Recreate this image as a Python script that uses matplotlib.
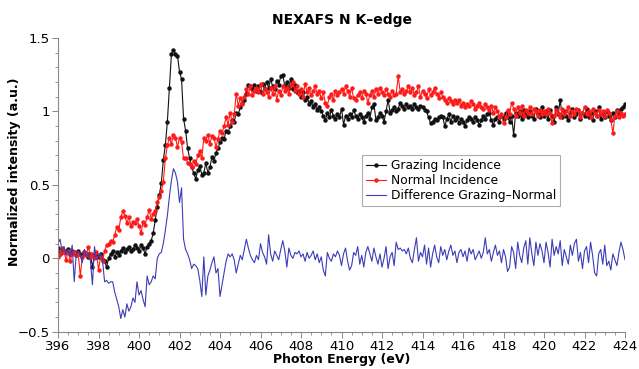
import numpy as np
import matplotlib
matplotlib.use("Agg")
import matplotlib.pyplot as plt
from matplotlib.ticker import MultipleLocator

# Photon energy grid (eV), 0.1 eV steps
energy_start = 396.0
energy_stop = 424.0
energy_step = 0.1

grazing = [
    0.07, 0.03, 0.06, 0.04, 0.05, 0.06, 0.03, 0.05, 0.04, 0.02,
    0.05, 0.03, 0.02, 0.04, 0.03, 0.01, 0.03, -0.06, 0.02, 0.03,
    0.01, 0.03, -0.01, -0.02, -0.06, 0.00, 0.03, 0.05, 0.01, 0.04,
    0.02, 0.05, 0.07, 0.04, 0.06, 0.08, 0.05, 0.06, 0.09, 0.07,
    0.05, 0.09, 0.07, 0.03, 0.08, 0.10, 0.12, 0.17, 0.26, 0.35,
    0.43, 0.51, 0.67, 0.77, 0.93, 1.16, 1.39, 1.42, 1.39, 1.38,
    1.27, 1.22, 0.95, 0.87, 0.75, 0.68, 0.62, 0.58, 0.54, 0.60,
    0.63, 0.57, 0.58, 0.65, 0.58, 0.62, 0.69, 0.66, 0.72, 0.75,
    0.79, 0.82, 0.81, 0.87, 0.86, 0.90, 0.94, 0.93, 0.99, 0.98,
    1.03, 1.06, 1.08, 1.12, 1.18, 1.17, 1.15, 1.18, 1.14, 1.17,
    1.13, 1.19, 1.15, 1.20, 1.16, 1.22, 1.17, 1.15, 1.21, 1.18,
    1.24, 1.25, 1.17, 1.20, 1.16, 1.22, 1.15, 1.18, 1.13, 1.14,
    1.10, 1.13, 1.08, 1.10, 1.05, 1.07, 1.03, 1.05, 1.01, 1.03,
    1.00, 0.97, 0.94, 0.99, 0.96, 1.01, 0.97, 0.95, 0.98, 0.96,
    1.02, 0.91, 0.97, 0.95, 0.98, 0.96, 1.01, 0.97, 0.95, 0.98,
    0.96, 0.93, 0.97, 0.99, 0.95, 1.03, 1.05, 0.94, 0.96, 0.99,
    0.97, 0.93, 1.00, 1.08, 0.99, 1.01, 1.03, 1.00, 1.02, 1.06,
    1.04, 1.02, 1.05, 1.03, 1.04, 1.02, 1.05, 1.03, 1.02, 1.04,
    1.03, 1.01, 1.00, 0.96, 0.92, 0.93, 0.95, 0.94, 0.96, 0.97,
    0.96, 0.90, 0.95, 0.98, 0.93, 0.97, 0.94, 0.96, 0.92, 0.95,
    0.93, 0.90, 0.94, 0.96, 0.95, 0.93, 0.96, 0.94, 0.91, 0.94,
    0.97, 0.95, 0.98, 0.99, 0.94, 0.91, 0.95, 0.96, 0.93, 0.97,
    0.95, 0.99, 0.96, 0.93, 0.97, 0.84, 0.99, 0.97, 1.00, 0.95,
    1.01, 0.98, 0.96, 1.00, 0.97, 0.95, 1.02, 0.98, 0.96, 1.03,
    0.97, 1.00, 0.95, 1.01, 0.97, 0.93, 1.03, 0.98, 1.08, 0.96,
    1.00, 0.97, 0.94, 0.99, 1.02, 0.96, 0.98, 1.01, 0.95, 0.99,
    0.97, 1.02, 0.96, 0.99, 0.94, 1.00, 0.97, 1.03, 0.95, 0.98,
    0.96, 1.00, 0.97, 0.94, 0.99, 0.96, 1.01, 0.98, 1.02, 1.03,
    1.05,
]

normal = [
    0.01, 0.03, 0.07, 0.04, -0.01, 0.05, -0.02, 0.03, 0.04, 0.02,
    0.03, -0.12, 0.01, 0.04, 0.02, 0.08, 0.01, 0.03, 0.00, 0.04,
    -0.08, 0.01, -0.02, 0.05, 0.09, 0.10, 0.12, 0.11, 0.16, 0.21,
    0.19, 0.28, 0.32, 0.29, 0.24, 0.28, 0.22, 0.25, 0.24, 0.27,
    0.22, 0.17, 0.25, 0.23, 0.28, 0.33, 0.27, 0.30, 0.32, 0.38,
    0.42, 0.46, 0.52, 0.68, 0.77, 0.82, 0.78, 0.84, 0.82, 0.76,
    0.82, 0.79, 0.68, 0.68, 0.65, 0.64, 0.62, 0.66, 0.64, 0.70,
    0.73, 0.68, 0.82, 0.80, 0.84, 0.78, 0.83, 0.82, 0.76, 0.81,
    0.87, 0.85, 0.90, 0.96, 0.91, 0.99, 0.93, 0.98, 1.12, 1.04,
    1.09, 1.05, 1.10, 1.15, 1.12, 1.17, 1.11, 1.14, 1.16, 1.13,
    1.19, 1.12, 1.15, 1.13, 1.10, 1.16, 1.12, 1.17, 1.08, 1.14,
    1.11, 1.17, 1.14, 1.16, 1.12, 1.18, 1.20, 1.14, 1.17, 1.12,
    1.15, 1.10, 1.19, 1.13, 1.16, 1.11, 1.14, 1.17, 1.12, 1.14,
    1.09, 1.13, 1.06, 1.04, 1.10, 1.12, 1.08, 1.14, 1.11, 1.13,
    1.15, 1.12, 1.17, 1.14, 1.10, 1.16, 1.09, 1.08, 1.11, 1.13,
    1.09, 1.14, 1.12, 1.06, 1.11, 1.14, 1.10, 1.15, 1.12, 1.16,
    1.13, 1.11, 1.15, 1.12, 1.10, 1.14, 1.11, 1.12, 1.24, 1.13,
    1.15, 1.12, 1.14, 1.17, 1.13, 1.16, 1.11, 1.13, 1.17, 1.10,
    1.14, 1.12, 1.09, 1.15, 1.11, 1.13, 1.16, 1.12, 1.09, 1.13,
    1.10, 1.08, 1.06, 1.09, 1.07, 1.05, 1.08, 1.06, 1.08, 1.04,
    1.06, 1.03, 1.05, 1.04, 1.07, 1.05, 1.02, 1.04, 1.06, 1.03,
    1.02, 1.05, 1.03, 1.01, 1.04, 0.99, 1.03, 1.00, 0.96, 0.98,
    0.92, 0.96, 1.01, 0.98, 1.06, 1.02, 0.97, 1.03, 0.99, 1.04,
    0.97, 1.01, 0.99, 1.03, 0.98, 1.02, 1.00, 0.97, 1.01, 0.98,
    1.00, 0.98, 1.02, 0.99, 0.92, 0.97, 1.01, 0.99, 0.96, 1.02,
    0.98, 1.00, 1.03, 0.97, 1.00, 0.98, 1.02, 1.01, 0.96, 0.99,
    1.03, 0.98, 1.00, 0.96, 1.02, 0.99, 0.97, 1.01, 0.98, 1.00,
    0.97, 1.01, 0.99, 0.95, 0.85, 0.97, 1.00, 0.96, 0.99, 0.97,
    0.98,
]

difference = [
    0.10, 0.13, 0.05, 0.08, 0.02, 0.06, 0.01, 0.09, -0.16, 0.03,
    0.05, 0.02, -0.03, 0.06, 0.01, 0.04, -0.02, -0.18, 0.08, -0.01,
    0.01, 0.04, -0.02, -0.16, -0.15, -0.17, -0.16, -0.16, -0.23, -0.28,
    -0.33, -0.41, -0.35, -0.40, -0.31, -0.36, -0.33, -0.27, -0.30, -0.16,
    -0.25, -0.22, -0.28, -0.33, -0.12, -0.18, -0.16, -0.12, -0.14, 0.00,
    0.03, 0.04, 0.10, 0.19, 0.29, 0.42, 0.53, 0.61, 0.58, 0.52,
    0.38, 0.48, 0.13, 0.06, 0.03, -0.01, -0.07, -0.04, -0.05, -0.07,
    -0.15, -0.26, 0.01, -0.25, -0.12, -0.08, -0.03, 0.01, -0.10, -0.07,
    -0.26, -0.18, -0.10, -0.02, 0.03, 0.01, 0.03, -0.01, -0.10, -0.04,
    0.02, -0.01, 0.06, 0.13, 0.07, 0.02, -0.01, -0.03, 0.02, -0.01,
    0.10, 0.04, 0.01, -0.04, 0.16, 0.03, -0.02, 0.05, 0.02, -0.01,
    0.06, 0.12, 0.05, -0.06, 0.07, 0.02, 0.00, 0.04, 0.03, 0.05,
    0.01, 0.03, -0.02, 0.04, 0.00, 0.02, 0.05, -0.01, 0.03, -0.03,
    0.01, -0.08, -0.12, 0.04, 0.00, -0.02, 0.03, 0.01, 0.05, 0.02,
    -0.05, 0.03, 0.07, -0.02, -0.08, -0.05, 0.04, 0.02, 0.08, -0.04,
    0.02, -0.06, 0.04, 0.08, 0.03, -0.02, 0.07, 0.01, -0.04, 0.03,
    -0.06, 0.00, 0.08, -0.07, 0.01, 0.04, -0.05, 0.11, 0.06, 0.07,
    0.05, 0.06, 0.03, 0.07, 0.00, -0.03, 0.06, 0.14, -0.02, 0.04,
    0.01, 0.09, -0.04, 0.07, -0.06, 0.03, 0.09, 0.01, -0.03, 0.08,
    0.02, 0.06, -0.01, 0.05, 0.09, 0.02, 0.05, -0.03, 0.04, 0.06,
    0.01, 0.05, -0.02, 0.07, 0.03, 0.06, -0.01, 0.02, 0.05, 0.00,
    0.04, 0.14, 0.03, 0.06, -0.02, 0.04, 0.09, 0.02, 0.05, -0.03,
    0.06, 0.01, -0.09, -0.06, 0.08, 0.04, -0.07, 0.11, 0.02, -0.03,
    0.07, 0.12, -0.04, 0.14, 0.03, -0.05, 0.11, 0.02, 0.10, 0.05,
    -0.03, 0.11, 0.04, -0.06, 0.13, 0.02, 0.08, 0.03, 0.12, -0.05,
    0.06, 0.01, -0.04, 0.09, 0.02, 0.10, 0.13, -0.02, 0.04, -0.07,
    0.05, 0.08, -0.03, 0.11, 0.02, -0.10, -0.12, 0.03, 0.06, -0.04,
    0.09, -0.05, -0.02, -0.08, 0.03, -0.01, -0.05, 0.04, 0.11, 0.06,
    -0.01,
]

x_ticks = [396, 398, 400, 402, 404, 406, 408, 410, 412, 414, 416, 418, 420, 422, 424]
y_ticks = [-0.5, 0, 0.5, 1, 1.5]
y_tick_labels = ["\u22120.5", "0", "0.5", "1", "1.5"]

n_points = len(grazing)
energy = energy_start + energy_step * np.arange(n_points)

plt.rcParams["font.family"] = ["DejaVu Sans"]

fig = plt.figure(figsize=(6.39, 3.69), dpi=100)
ax = fig.add_axes([0.0908, 0.101, 0.8873, 0.796])

ax.plot(energy, grazing, color="#111111", lw=0.8, marker="o", ms=2.2,
        label="Grazing Incidence")
ax.plot(energy, normal, color="#ff1a1a", lw=0.8, marker="o", ms=2.2,
        label="Normal Incidence")
ax.plot(energy, difference, color="#3c3cb8", lw=0.8,
        label="Difference Grazing\u2013Normal")

ax.set_xlim(energy_start, energy_stop)
ax.set_ylim(-0.5, 1.5)
ax.set_xticks(x_ticks)
ax.set_yticks(y_ticks)
ax.set_yticklabels(y_tick_labels)
ax.xaxis.set_minor_locator(MultipleLocator(0.5))
ax.yaxis.set_minor_locator(MultipleLocator(0.1))

for side in ("top", "right"):
    ax.spines[side].set_visible(False)
for side in ("left", "bottom"):
    ax.spines[side].set_color("#888888")
    ax.spines[side].set_linewidth(0.8)

ax.tick_params(axis="both", which="major", direction="out", length=4,
               width=0.7, color="#888888", labelsize=9.5, pad=2)
ax.tick_params(axis="both", which="minor", direction="out", length=2.5,
               width=0.6, color="#888888")

ax.set_title("NEXAFS N K\u2013edge", fontsize=10, fontweight="bold", pad=10)
ax.set_xlabel("Photon Energy (eV)", fontsize=9, fontweight="bold")
ax.xaxis.set_label_coords(0.5, -0.073)
ax.set_ylabel("Normalized intensity (a.u.)", fontsize=9, fontweight="bold")
ax.yaxis.set_label_coords(-0.066, 0.544)

leg = ax.legend(loc="upper left", bbox_to_anchor=(0.536, 0.602), fontsize=8.8,
                frameon=True, fancybox=False, handlelength=1.6,
                handletextpad=0.4, borderpad=0.35, labelspacing=0.15,
                borderaxespad=0)
leg.get_frame().set_edgecolor("#999999")
leg.get_frame().set_linewidth(0.8)

fig.savefig("out.png", dpi=100)
